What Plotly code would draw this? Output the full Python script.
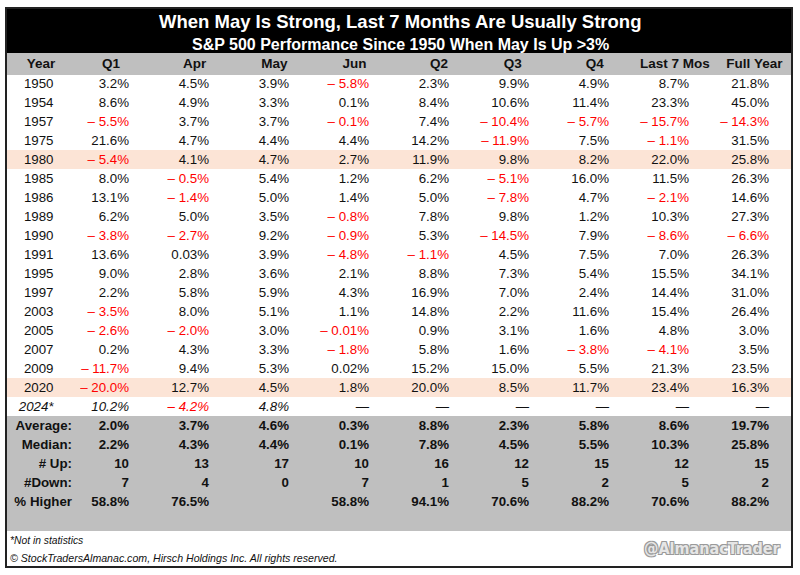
import plotly.graph_objects as go

# ---------------- data ----------------
headers = ["Year", "Q1", "Apr", "May", "Jun", "Q2", "Q3", "Q4", "Last 7 Mos", "Full Year"]
years = ["1950", "1954", "1957", "1975", "1980", "1985", "1986", "1989", "1990", "1991",
         "1995", "1997", "2003", "2005", "2007", "2009", "2020", "2024*"]
q1 = [3.2, 8.6, -5.5, 21.6, -5.4, 8.0, 13.1, 6.2, -3.8, 13.6, 9.0, 2.2, -3.5, -2.6, 0.2, -11.7, -20.0, 10.2]
apr = [4.5, 4.9, 3.7, 4.7, 4.1, -0.5, -1.4, 5.0, -2.7, 0.03, 2.8, 5.8, 8.0, -2.0, 4.3, 9.4, 12.7, -4.2]
may = [3.9, 3.3, 3.7, 4.4, 4.7, 5.4, 5.0, 3.5, 9.2, 3.9, 3.6, 5.9, 5.1, 3.0, 3.3, 5.3, 4.5, 4.8]
jun = [-5.8, 0.1, -0.1, 4.4, 2.7, 1.2, 1.4, -0.8, -0.9, -4.8, 2.1, 4.3, 1.1, -0.01, -1.8, 0.02, 1.8, None]
q2 = [2.3, 8.4, 7.4, 14.2, 11.9, 6.2, 5.0, 7.8, 5.3, -1.1, 8.8, 16.9, 14.8, 0.9, 5.8, 15.2, 20.0, None]
q3 = [9.9, 10.6, -10.4, -11.9, 9.8, -5.1, -7.8, 9.8, -14.5, 4.5, 7.3, 7.0, 2.2, 3.1, 1.6, 15.0, 8.5, None]
q4 = [4.9, 11.4, -5.7, 7.5, 8.2, 16.0, 4.7, 1.2, 7.9, 7.5, 5.4, 2.4, 11.6, 1.6, -3.8, 5.5, 11.7, None]
last7 = [8.7, 23.3, -15.7, -1.1, 22.0, 11.5, -2.1, 10.3, -8.6, 7.0, 15.5, 14.4, 15.4, 4.8, -4.1, 21.3, 23.4, None]
full_year = [21.8, 45.0, -14.3, 31.5, 25.8, 26.3, 14.6, 27.3, -6.6, 26.3, 34.1, 31.0, 26.4, 3.0, 3.5, 23.5, 16.3, None]

stat_labels = ["Average:", "Median:", "# Up:", "#Down:", "% Higher"]
average = [2.0, 3.7, 4.6, 0.3, 8.8, 2.3, 5.8, 8.6, 19.7]
median = [2.2, 4.3, 4.4, 0.1, 7.8, 4.5, 5.5, 10.3, 25.8]
num_up = [10, 13, 17, 10, 16, 12, 15, 12, 15]
num_down = [7, 4, 0, 7, 1, 5, 2, 5, 2]
pct_higher = [58.8, 76.5, None, 58.8, 94.1, 70.6, 88.2, 70.6, 88.2]

highlight_years = ["1980", "2020"]
partial_year = "2024*"   # not in statistics, shown in italics

title = "When May Is Strong, Last 7 Months Are Usually Strong"
subtitle = "S&P 500 Performance Since 1950 When May Is Up >3%"
footnote = "*Not in statistics"
copyright_txt = "© StockTradersAlmanac.com, Hirsch Holdings Inc. All rights reserved."
handle = "@AlmanacTrader"

# ---------------- styling ----------------
FONT = "Liberation Sans, Arial, sans-serif"
NB = "\u00a0"
BLACK = "#111111"
RED = "#ff0000"
PINK = "#fce4d6"
GREY = "#bfbfbf"
WHITE = "#ffffff"
CLEAR = "rgba(0,0,0,0)"
W, H = 800, 575
LEFT, RIGHT, TOP, BOTTOM = 6, 792, 8, 567
TITLE_BOTTOM = 53
HEAD_H, ROW_H = 21, 19
TEXT_LIFT = 3.5          # table text sits slightly low in its cell; lift the text layer
body_widths = [74, 57] + [80] * 8 + [RIGHT - 777]
NCOL = len(body_widths)


def px_y(p):
    return 1 - p / H


def px_x(p):
    return p / W


def fmt_pct(v, missing="\u2014"):
    if v is None:
        return missing
    dec = 2 if (v != 0 and abs(v) < 0.05) else 1
    s = f"{abs(v):.{dec}f}%"
    return ("\u2013" + NB + s) if v < 0 else s


data_cols = [q1, apr, may, jun, q2, q3, q4, last7, full_year]

# ---- row model: list of (texts per column, colours per column) ----
year_rows = []
for i, y in enumerate(years):
    texts = [y + NB * 5] + [fmt_pct(col[i]) for col in data_cols] + [""]
    cols = [BLACK] + [RED if (col[i] is not None and col[i] < 0) else BLACK for col in data_cols] + [BLACK]
    year_rows.append((texts, cols))

stat_rows = []
for k, lab in enumerate(stat_labels):
    if k == 0:
        vals = [fmt_pct(x) for x in average]
    elif k == 1:
        vals = [fmt_pct(x) for x in median]
    elif k == 2:
        vals = [str(x) for x in num_up]
    elif k == 3:
        vals = [str(x) for x in num_down]
    else:
        vals = [fmt_pct(x, missing="") for x in pct_higher]
    stat_rows.append(([lab.replace(" ", NB)] + vals + [""], [BLACK] * NCOL))
stat_rows.append(([""] * NCOL, [BLACK] * NCOL))

main_rows = [r for r, y in zip(year_rows, years) if y != partial_year]
part_rows = [r for r, y in zip(year_rows, years) if y == partial_year]

row_fills = ([PINK if y in highlight_years else WHITE for y in years if y != partial_year]
             + [WHITE] * len(part_rows) + [GREY] * len(stat_rows))
n_all = len(row_fills)

fig = go.Figure()

# ---- background (fills) layer ----
fill_matrix = [row_fills for _ in range(NCOL)]
fig.add_trace(go.Table(
    domain=dict(x=[px_x(LEFT), px_x(RIGHT)], y=[px_y(TITLE_BOTTOM + HEAD_H + ROW_H * n_all + 4), px_y(TITLE_BOTTOM)]),
    columnwidth=body_widths,
    header=dict(values=[""] * NCOL, height=HEAD_H, fill=dict(color=GREY), line=dict(color=GREY, width=1)),
    cells=dict(values=[[""] * n_all for _ in range(NCOL)], height=ROW_H,
               fill=dict(color=fill_matrix), line=dict(color=fill_matrix, width=1)),
))


# ---- text layers: first row of each block is the table "header" ----
def add_text_block(rows, top_px, weight="normal", style="normal"):
    first, rest = rows[0], rows[1:]
    font_h = dict(family=FONT, size=13.3, color=first[1], weight=weight, style=style)
    cell_vals = [[r[0][c] for r in rest] for c in range(NCOL)]
    cell_cols = [[r[1][c] for r in rest] for c in range(NCOL)]
    top = top_px - TEXT_LIFT
    fig.add_trace(go.Table(
        domain=dict(x=[px_x(LEFT), px_x(RIGHT)], y=[px_y(top + ROW_H * len(rows) + 4), px_y(top)]),
        columnwidth=body_widths,
        header=dict(values=first[0], height=ROW_H, align="right", font=font_h,
                    fill=dict(color=CLEAR), line=dict(color=CLEAR, width=0)),
        cells=dict(values=cell_vals, height=ROW_H, align="right",
                   fill=dict(color=CLEAR), line=dict(color=CLEAR, width=0),
                   font=dict(family=FONT, size=13.3, color=cell_cols if rest else BLACK,
                             weight=weight, style=style)),
    ))
    return top_px + ROW_H * len(rows)


y_next = add_text_block(main_rows, TITLE_BOTTOM + HEAD_H)
y_next = add_text_block(part_rows, y_next, style="italic")
y_next = add_text_block(stat_rows, y_next, weight="bold")

# ---- header labels (text only), columns centred on the header labels ----
head_centers = [41, 111, 194.7, 274.5, 354.7, 439, 513, 595, 675, 754.5]
bounds = [LEFT]
for cx in head_centers:
    bounds.append(2 * cx - bounds[-1])
head_widths = [bounds[i + 1] - bounds[i] for i in range(len(head_centers))]
htop = TITLE_BOTTOM - 3
fig.add_trace(go.Table(
    domain=dict(x=[px_x(bounds[0]), px_x(bounds[-1])], y=[px_y(htop + HEAD_H + 4), px_y(htop)]),
    columnwidth=head_widths,
    header=dict(values=[h.replace(" ", NB) for h in headers], height=HEAD_H, align="center",
                fill=dict(color=CLEAR), line=dict(color=CLEAR, width=0),
                font=dict(family=FONT, size=13.5, color=BLACK, weight="bold")),
    cells=dict(values=[[] for _ in headers], fill=dict(color=CLEAR), line=dict(color=CLEAR, width=0)),
))

shapes = [
    dict(type="rect", xref="paper", yref="paper", x0=px_x(LEFT), x1=px_x(RIGHT),
         y0=px_y(TITLE_BOTTOM), y1=px_y(TOP), fillcolor="#000000", line=dict(width=0), layer="below"),
    dict(type="rect", xref="paper", yref="paper", x0=px_x(LEFT), x1=px_x(RIGHT),
         y0=px_y(BOTTOM), y1=px_y(TOP), fillcolor=CLEAR, line=dict(color="#222222", width=2),
         layer="above"),
]

annotations = [
    dict(text=f"<b>{title}</b>", x=0.5, y=px_y(22), xref="paper", yref="paper", showarrow=False,
         xanchor="center", yanchor="middle", font=dict(family=FONT, size=18.5, color="white")),
    dict(text="<b>" + subtitle.replace("&", "&amp;").replace(">", "&gt;") + "</b>", x=0.5, y=px_y(44),
         xref="paper", yref="paper", showarrow=False, xanchor="center", yanchor="middle",
         font=dict(family=FONT, size=16, color="white")),
    dict(text=f"<i>{footnote}</i>", x=px_x(8), y=px_y(540), xref="paper", yref="paper", showarrow=False,
         xanchor="left", yanchor="middle", font=dict(family=FONT, size=10.3, color="#111111")),
    dict(text=f"<i>{copyright_txt}</i>", x=px_x(8), y=px_y(558), xref="paper", yref="paper", showarrow=False,
         xanchor="left", yanchor="middle", font=dict(family=FONT, size=10.6, color="#111111")),
    dict(text=f"<b>{handle}</b>", x=px_x(783), y=px_y(548), xref="paper", yref="paper", showarrow=False,
         xanchor="right", yanchor="middle",
         font=dict(family="DejaVu Sans Condensed, sans-serif", size=16, color="#e6e6e6",
                   shadow="-1px -1px 0 #9a9a9a, 1px -1px 0 #9a9a9a, -1px 1px 0 #9a9a9a, 1px 1px 0 #9a9a9a")),
]

fig.update_layout(
    width=W, height=H, margin=dict(l=0, r=0, t=0, b=0),
    paper_bgcolor="white", plot_bgcolor="white",
    shapes=shapes, annotations=annotations, showlegend=False,
)

fig.write_html("out.html", config={"displayModeBar": False},
               post_script="document.body.style.margin='0px';")
